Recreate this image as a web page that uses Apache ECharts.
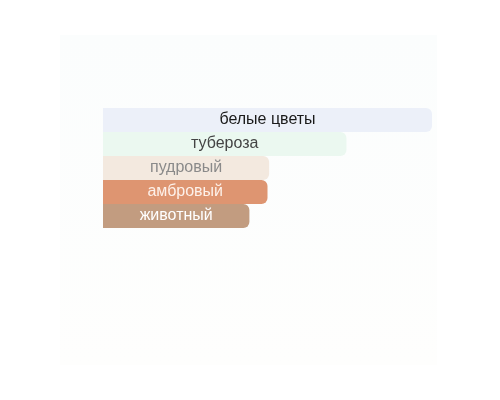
<!DOCTYPE html>
<html>
<head>
<meta charset="utf-8">
<script src="https://cdn.jsdelivr.net/npm/echarts@6/dist/echarts.min.js"></script>
<style>
  html, body { margin: 0; padding: 0; background: #fff; }
  #main { width: 500px; height: 400px; }
</style>
</head>
<body>
<div id="main"></div>
<script>
// данные
var categories = ['белые цветы', 'тубероза', 'пудровый', 'амбровый', 'животный'];
var values = [100, 74, 50.5, 50, 44.5];
var barColors = ['#ecf0f9', '#ebf8f0', '#f3e9df', '#de9571', '#c29c80'];
var labelColors = ['#1a1a1a', '#444444', '#8a8a8a', '#fdf1ea', '#ffffff'];

var chart = echarts.init(document.getElementById('main'));

var option = {
    backgroundColor: '#ffffff',
    animation: false,
    graphic: [{
        type: 'rect',
        z: -10,
        shape: {x: 60, y: 35, width: 377, height: 330},
        style: {
            fill: new echarts.graphic.LinearGradient(0, 0, 0, 1, [
                {offset: 0, color: '#fbfdfd'},
                {offset: 1, color: '#fefefd'}
            ])
        }
    }],
    grid: {left: 103, right: 68, top: 108, bottom: 172},
    xAxis: {
        type: 'value',
        min: 0,
        max: 100,
        show: false
    },
    yAxis: {
        type: 'category',
        data: categories,
        inverse: true,
        show: false
    },
    series: [{
        type: 'bar',
        barCategoryGap: '0%',
        barWidth: 24,
        data: values.map(function (v, i) {
            return {
                value: v,
                itemStyle: {color: barColors[i], borderRadius: [0, 6, 6, 0]},
                label: {color: labelColors[i]}
            };
        }),
        label: {
            show: true,
            position: 'inside',
            fontFamily: 'Liberation Sans, Arial, sans-serif',
            fontSize: 16,
            formatter: function (p) { return p.name; }
        }
    }]
};

chart.setOption(option);
</script>
</body>
</html>
